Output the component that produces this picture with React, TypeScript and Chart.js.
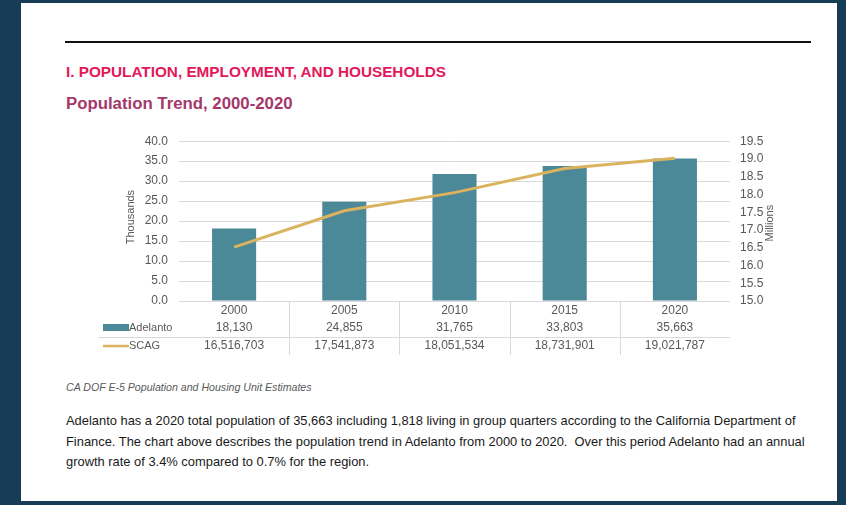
import React, { useEffect, useRef } from "react";
import { Chart, registerables } from "chart.js";

Chart.register(...registerables);

const years = ["2000", "2005", "2010", "2015", "2020"];
const adelanto = [18130, 24855, 31765, 33803, 35663];
const scag = [16516703, 17541873, 18051534, 18731901, 19021787];
const seriesNames = ["Adelanto", "SCAG"];
const leftAxisTitle = "Thousands";
const rightAxisTitle = "Millions";

const BAR_COLOR = "#4b8898";
const LINE_COLOR = "#dbb25e";
const TICK_COLOR = "#595959";
const GRID_COLOR = "#d9d9d9";
const FONT = "'Liberation Sans', Arial, sans-serif";

const fmt = (v: number) => v.toLocaleString("en-US");

const tablePlugin = {
  id: "dataTable",
  afterDraw(chart: any) {
    const ctx = chart.ctx as CanvasRenderingContext2D;
    const xs = chart.scales.x;
    const area = chart.chartArea;
    const rowY = area.bottom + 9.5;
    const rowA = area.bottom + 27;
    const rowB = area.bottom + 45;
    ctx.save();
    // separators
    ctx.strokeStyle = GRID_COLOR;
    ctx.lineWidth = 1;
    for (let i = 1; i < years.length; i++) {
      const sx = Math.round((xs.getPixelForValue(i - 1) + xs.getPixelForValue(i)) / 2) + 0.5;
      ctx.beginPath();
      ctx.moveTo(sx, area.bottom);
      ctx.lineTo(sx, area.bottom + 54);
      ctx.stroke();
    }
    ctx.beginPath();
    ctx.moveTo(8, area.bottom + 36.5);
    ctx.lineTo(area.right, area.bottom + 36.5);
    ctx.stroke();
    // values
    ctx.fillStyle = TICK_COLOR;
    ctx.font = `12px ${FONT}`;
    ctx.textAlign = "center";
    ctx.textBaseline = "middle";
    for (let i = 0; i < years.length; i++) {
      const cx = xs.getPixelForValue(i);
      ctx.fillText(years[i], cx, rowY);
      ctx.fillText(fmt(adelanto[i]), cx, rowA);
      ctx.fillText(fmt(scag[i]), cx, rowB);
    }
    // legend keys
    ctx.fillStyle = BAR_COLOR;
    ctx.fillRect(13, rowA - 4, 26, 7);
    ctx.strokeStyle = LINE_COLOR;
    ctx.lineWidth = 2.5;
    ctx.beginPath();
    ctx.moveTo(13, rowB);
    ctx.lineTo(39, rowB);
    ctx.stroke();
    ctx.fillStyle = TICK_COLOR;
    ctx.font = `11px ${FONT}`;
    ctx.textAlign = "left";
    ctx.fillText(seriesNames[0], 39, rowA);
    ctx.fillText(seriesNames[1], 39, rowB);
    // axis titles
    const mid = (area.top + area.bottom) / 2;
    ctx.textAlign = "center";
    ctx.save();
    ctx.translate(41, mid - 4);
    ctx.rotate(-Math.PI / 2);
    ctx.fillText(leftAxisTitle, 0, 0);
    ctx.restore();
    ctx.save();
    ctx.translate(area.right + 40, mid + 2);
    ctx.rotate(-Math.PI / 2);
    ctx.fillText(rightAxisTitle, 0, 0);
    ctx.restore();
    ctx.restore();
  },
};

function PopulationChart() {
  const ref = useRef<HTMLCanvasElement>(null);
  useEffect(() => {
    if (!ref.current) return;
    const chart = new Chart(ref.current, {
      type: "bar",
      data: {
        labels: years,
        datasets: [
          {
            type: "line",
            label: seriesNames[1],
            data: scag.map((v) => v / 1e6),
            yAxisID: "y1",
            borderColor: LINE_COLOR,
            backgroundColor: LINE_COLOR,
            borderWidth: 3,
            pointRadius: 0,
            tension: 0,
            order: 0,
          } as any,
          {
            type: "bar",
            label: seriesNames[0],
            data: adelanto.map((v) => v / 1000),
            yAxisID: "y",
            backgroundColor: BAR_COLOR,
            barPercentage: 0.4,
            categoryPercentage: 1,
            order: 1,
          },
        ],
      },
      options: {
        responsive: false,
        animation: false,
        devicePixelRatio: 1,
        layout: { padding: { top: 8, left: 0, right: 0, bottom: 0 } },
        plugins: { legend: { display: false }, tooltip: { enabled: false } },
        scales: {
          x: {
            grid: { display: false },
            border: { display: false },
            ticks: { display: false },
            afterFit: (s: any) => {
              s.height = 62;
            },
          },
          y: {
            position: "left",
            min: 0,
            max: 40,
            grid: { color: GRID_COLOR, drawTicks: false },
            border: { display: false },
            ticks: {
              stepSize: 5,
              autoSkip: false,
              padding: 11,
              color: TICK_COLOR,
              font: { family: FONT, size: 12 },
              callback: (v: any) => Number(v).toFixed(1),
            },
            afterFit: (s: any) => {
              s.width = 89;
            },
          },
          y1: {
            position: "right",
            min: 15,
            max: 19.5,
            grid: { display: false, drawTicks: false },
            border: { display: false },
            ticks: {
              stepSize: 0.5,
              autoSkip: false,
              padding: 10,
              color: TICK_COLOR,
              font: { family: FONT, size: 12 },
              callback: (v: any) => Number(v).toFixed(1),
            },
            afterFit: (s: any) => {
              s.width = 60;
            },
          },
        },
      },
      plugins: [tablePlugin],
    });
    return () => chart.destroy();
  }, []);
  return (
    <canvas
      ref={ref}
      width={700}
      height={240}
      style={{ position: "absolute", left: 90, top: 123, width: 700, height: 240 }}
    />
  );
}

export default function App() {
  const abs = (top: number, extra: React.CSSProperties = {}): React.CSSProperties => ({
    position: "absolute",
    left: 66,
    top,
    whiteSpace: "pre",
    fontFamily: FONT,
    ...extra,
  });
  return (
    <div style={{ position: "fixed", left: 0, top: 0, width: 846, height: 505, background: "#173d56", overflow: "hidden" }}>
      <div style={{ position: "absolute", left: 21, top: 3, width: 816, height: 498, background: "#ffffff" }} />
      <div style={{ position: "absolute", left: 65, top: 41, width: 746, height: 2, background: "#111111" }} />
      <div style={abs(62, { fontSize: 15.3, lineHeight: "20px", fontWeight: 700, color: "#e2185b" })}>
        I. POPULATION, EMPLOYMENT, AND HOUSEHOLDS
      </div>
      <div style={abs(94, { fontSize: 16.8, lineHeight: "20px", fontWeight: 700, color: "#a4386b" })}>
        Population Trend, 2000-2020
      </div>
      <PopulationChart />
      <div style={abs(376.5, { fontSize: 10.6, lineHeight: "20px", fontStyle: "italic", color: "#595959" })}>
        CA DOF E-5 Population and Housing Unit Estimates
      </div>
      <div style={abs(411, { fontSize: 12.9, lineHeight: "20.7px", color: "#1a1a1a" })}>
        {"Adelanto has a 2020 total population of 35,663 including 1,818 living in group quarters according to the California Department of\nFinance. The chart above describes the population trend in Adelanto from 2000 to 2020.  Over this period Adelanto had an annual\ngrowth rate of 3.4% compared to 0.7% for the region."}
      </div>
    </div>
  );
}
